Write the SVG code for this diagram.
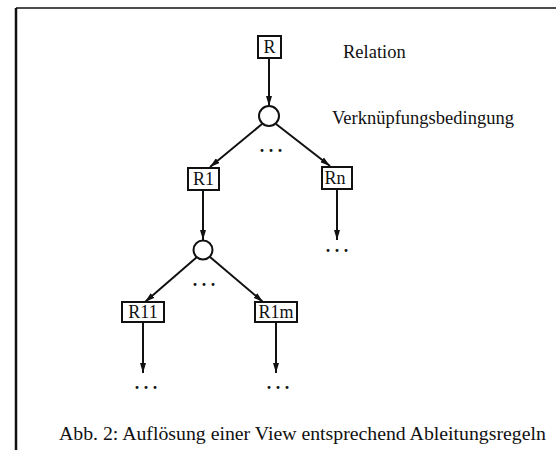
<svg xmlns="http://www.w3.org/2000/svg" width="556" height="450" viewBox="0 0 556 450">
<defs>
<marker id="ah" markerWidth="10" markerHeight="6" refX="10" refY="3" orient="auto" markerUnits="userSpaceOnUse">
<path d="M0,0 L10,3 L0,6 Z" fill="#111"/>
</marker>
<style>
.t{font-family:"Liberation Serif","Times New Roman",serif;font-size:18px;fill:#111}
.lbl{font-family:"Liberation Serif","Times New Roman",serif;font-size:18.5px;fill:#111}
.cap{font-family:"Liberation Serif","Times New Roman",serif;font-size:19.8px;fill:#111}
.box{fill:#fff;stroke:#111;stroke-width:2}
.c{fill:#fff;stroke:#111;stroke-width:2}
.e{stroke:#111;stroke-width:2;fill:none;marker-end:url(#ah)}
.dots{font-family:"Liberation Serif","Times New Roman",serif;font-size:18px;font-weight:bold;fill:#111;text-anchor:middle}
</style>
</defs>
<rect width="556" height="450" fill="#fff"/>
<g id="frame">
<line x1="16" y1="8" x2="556" y2="8" stroke="#111" stroke-width="1.5"/>
<line x1="16" y1="8" x2="16" y2="450" stroke="#111" stroke-width="2.5"/>
</g>
<g id="connectors">
<line class="e" x1="269" y1="58" x2="269" y2="106"/>
<line class="e" x1="262" y1="124" x2="210" y2="167"/>
<line class="e" x1="276" y1="124" x2="330" y2="166"/>
<line class="e" x1="203" y1="190" x2="203" y2="240"/>
<line class="e" x1="197" y1="257" x2="145" y2="302"/>
<line class="e" x1="210" y1="257" x2="263" y2="302"/>
<line class="e" x1="337" y1="188" x2="337" y2="240"/>
<line class="e" x1="143" y1="322" x2="143" y2="373"/>
<line class="e" x1="276" y1="322" x2="276" y2="373"/>
</g>
<g id="R"><rect class="box" x="258" y="36" width="23" height="22"/><text class="t" x="269.5" y="53" text-anchor="middle">R</text></g>
<g id="label-relation"><text class="lbl" x="343" y="58">Relation</text></g>
<g id="cond1"><circle class="c" cx="269" cy="116" r="10"/></g>
<g id="label-cond"><text class="lbl" x="332" y="124">Verknüpfungsbedingung</text></g>
<g id="dots1"><text class="dots" x="271" y="152">. . .</text></g>
<g id="R1"><rect class="box" x="188" y="168" width="31" height="22"/><text class="t" x="203.5" y="185" text-anchor="middle">R1</text></g>
<g id="Rn"><rect class="box" x="322" y="167" width="30" height="22"/><text class="t" x="335" y="184" text-anchor="middle">Rn</text></g>
<g id="dotsRn"><text class="dots" x="337" y="252">. . .</text></g>
<g id="cond2"><circle class="c" cx="203" cy="250" r="9.5"/></g>
<g id="dots2"><text class="dots" x="204" y="286">. . .</text></g>
<g id="R11"><rect class="box" x="122" y="302" width="42" height="20"/><text class="t" x="143" y="318" text-anchor="middle">R11</text></g>
<g id="R1m"><rect class="box" x="255" y="302" width="42" height="20"/><text class="t" x="276" y="318" text-anchor="middle">R1m</text></g>
<g id="dotsR11"><text class="dots" x="146" y="389">. . .</text></g>
<g id="dotsR1m"><text class="dots" x="278" y="389">. . .</text></g>
<g id="caption"><text class="cap" x="59" y="440">Abb. 2: Auflösung einer View entsprechend Ableitungsregeln</text></g>
</svg>
